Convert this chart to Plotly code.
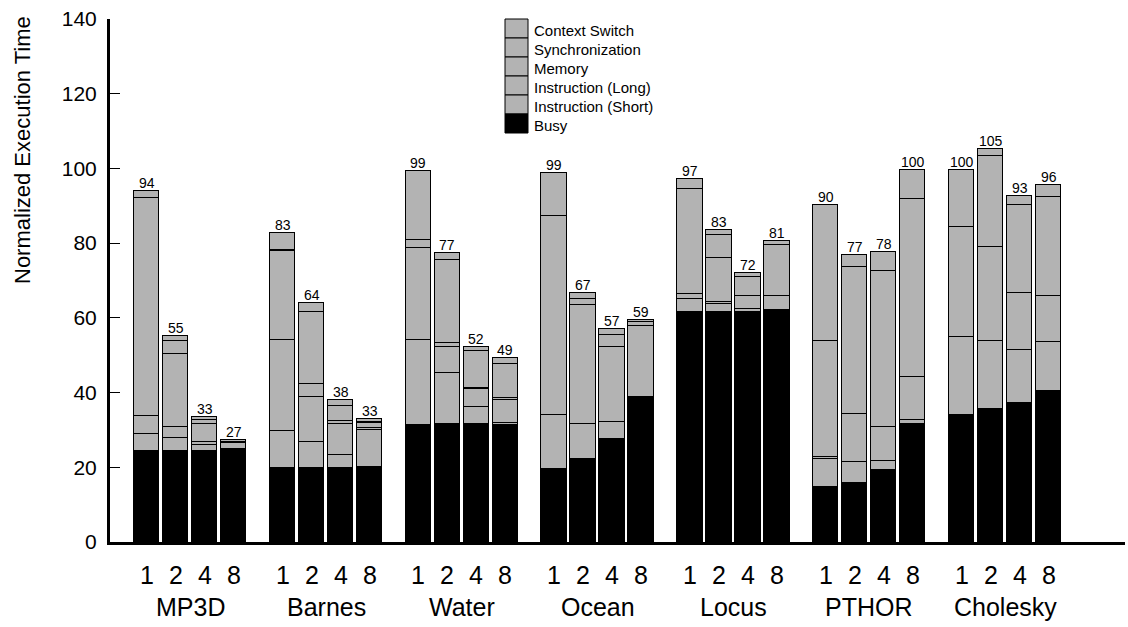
import plotly.graph_objects as go

# ---------------------------------------------------------------
# Data: normalized execution time breakdown, benchmarks x processors
# ---------------------------------------------------------------
benchmarks = ["MP3D", "Barnes", "Water", "Ocean", "Locus", "PTHOR", "Cholesky"]
procs = ["1", "2", "4", "8"]

# each row: one benchmark, values for 1 / 2 / 4 / 8 processors
busy = [24.3, 24.3, 24.3, 24.3,
        19.9, 19.9, 19.9, 20.0,
        31.4, 31.5, 31.5, 31.3,
        19.5, 22.1, 27.6, 38.7,
        61.5, 61.5, 61.5, 62.2,
        14.6, 15.7, 19.3, 31.7,
        33.9, 35.5, 37.1, 40.4]
inst_short = [4.6, 3.6, 1.8, 0.3,
              9.7, 7.0, 3.3, 10.1,
              22.6, 13.8, 4.7, 0.6,
              14.4, 9.6, 4.6, 19.2,
              3.5, 2.1, 0.8, 3.7,
              7.7, 5.8, 2.4, 0.9,
              20.9, 18.3, 14.3, 13.1]
inst_long = [4.9, 2.8, 0.7, 0.2,
             24.6, 11.9, 8.4, 0.5,
             24.6, 7.0, 4.7, 6.0,
             53.4, 31.8, 19.9, 0.0,
             1.3, 0.6, 3.6, 0.0,
             0.4, 12.7, 9.1, 11.5,
             29.6, 25.3, 15.2, 12.4]
memory = [58.4, 19.7, 4.7, 1.7,
          23.6, 3.4, 0.9, 1.2,
          2.2, 1.0, 0.4, 0.6,
          0.0, 1.6, 3.3, 0.9,
          28.3, 11.8, 5.0, 13.5,
          31.1, 39.3, 41.8, 47.8,
          15.2, 24.3, 23.6, 26.4]
synchronization = [0.0, 3.3, 1.1, 0.2,
                   0.3, 19.5, 4.0, 0.2,
                   18.4, 22.1, 9.7, 9.2,
                   0.0, 0.0, 0.0, 0.0,
                   0.0, 6.1, 0.0, 0.0,
                   36.4, 0.0, 0.0, 0.0,
                   0.0, 0.0, 0.0, 0.0]
context_switch = [1.7, 1.4, 0.8, 0.5,
                  4.5, 2.2, 1.4, 0.8,
                  0.2, 1.9, 1.1, 1.5,
                  11.4, 1.6, 1.7, 0.6,
                  2.7, 1.3, 1.2, 1.3,
                  0.0, 3.4, 5.0, 7.7,
                  0.0, 1.9, 2.5, 3.3]

segment_names = ["Busy", "Instruction (Short)", "Instruction (Long)",
                 "Memory", "Synchronization", "Context Switch"]
segment_values = [busy, inst_short, inst_long, memory, synchronization, context_switch]
segment_colors = ["#000000", "#b3b3b3", "#b3b3b3", "#b3b3b3", "#b3b3b3", "#b3b3b3"]

# ---------------------------------------------------------------
# Geometry
# ---------------------------------------------------------------
W, H = 1128, 627
M_L, M_R, M_T, M_B = 110, 3, 19, 85
PLOT_W = W - M_L - M_R
PLOT_H = H - M_T - M_B

BAR_STEP_PX = 29.0        # distance between neighbouring bars
GROUP_STEP_PX = 135.8     # distance between benchmark groups
FIRST_BAR_PX = 146.7      # centre of the first bar
GROUP_STEP = GROUP_STEP_PX / BAR_STEP_PX
BAR_W = 0.88

X_MIN = (M_L - FIRST_BAR_PX) / BAR_STEP_PX
X_MAX = (W - M_R - FIRST_BAR_PX) / BAR_STEP_PX


def px_x(px):
    return (px - M_L) / PLOT_W


def px_y(py):
    return (H - M_B - py) / PLOT_H


x_pos = [g * GROUP_STEP + i for g in range(len(benchmarks)) for i in range(len(procs))]
totals = [sum(s[j] for s in segment_values) for j in range(len(x_pos))]

SANS = "Arial, Liberation Sans, sans-serif"

fig = go.Figure()
for name, vals, color in zip(segment_names, segment_values, segment_colors):
    fig.add_trace(go.Bar(
        x=x_pos, y=vals, name=name, width=BAR_W,
        marker=dict(color=color, line=dict(color="#000000", width=1)),
        showlegend=False, hoverinfo="skip",
    ))

annotations = []

# totals above each bar
for xp, tot in zip(x_pos, totals):
    annotations.append(dict(
        x=xp, y=tot, xref="x", yref="y", text=str(round(tot)),
        showarrow=False, yanchor="bottom", yshift=-2,
        font=dict(family=SANS, size=14, color="#000000"),
    ))

# processor counts under each bar
for j, xp in enumerate(x_pos):
    annotations.append(dict(
        x=xp, y=px_y(575), xref="x", yref="paper", text=procs[j % len(procs)],
        showarrow=False, yanchor="middle",
        font=dict(family=SANS, size=25, color="#000000"),
    ))

# benchmark names under each group
for g, name in enumerate(benchmarks):
    annotations.append(dict(
        x=g * GROUP_STEP + (len(procs) - 1) / 2, y=px_y(607), xref="x", yref="paper",
        text=name, showarrow=False, yanchor="middle",
        font=dict(family=SANS, size=25, color="#000000"),
    ))

# y-axis title
annotations.append(dict(
    x=px_x(22), y=px_y(150), xref="paper", yref="paper",
    text="Normalized Execution Time", textangle=-90, showarrow=False,
    xanchor="center", yanchor="middle",
    font=dict(family=SANS, size=22, color="#000000"),
))

# legend: stacked swatches, top entry first
shapes = []
LEG_X0, LEG_X1 = 505, 528
LEG_TOP, LEG_STEP = 19, 19
for k, idx in enumerate(reversed(range(len(segment_names)))):
    top = LEG_TOP + k * LEG_STEP
    shapes.append(dict(
        type="rect", xref="paper", yref="paper",
        x0=px_x(LEG_X0), x1=px_x(LEG_X1), y0=px_y(top + LEG_STEP), y1=px_y(top),
        fillcolor=segment_colors[idx], line=dict(color="#000000", width=1),
    ))
    annotations.append(dict(
        x=px_x(532), y=px_y(top + LEG_STEP / 2 + 2), xref="paper", yref="paper",
        text=segment_names[idx], showarrow=False, xanchor="left", yanchor="middle",
        font=dict(family=SANS, size=15, color="#000000"),
    ))

yticks = list(range(0, 141, 20))

fig.update_layout(
    width=W, height=H,
    margin=dict(l=M_L, r=M_R, t=M_T, b=M_B, autoexpand=False),
    barmode="stack", bargap=0,
    plot_bgcolor="#ffffff", paper_bgcolor="#ffffff",
    showlegend=False,
    xaxis=dict(range=[X_MIN, X_MAX], showline=True, linecolor="#000000", linewidth=3,
               showticklabels=False, ticks="", showgrid=False, zeroline=False,
               fixedrange=True),
    yaxis=dict(range=[0, 140], tickvals=yticks, ticks="inside", ticklen=10, tickwidth=1,
               tickcolor="#000000", showline=True, linecolor="#000000", linewidth=3,
               showgrid=False, zeroline=False, ticklabelstandoff=6,
               tickfont=dict(family=SANS, size=21, color="#000000"), fixedrange=True),
    yaxis2=dict(range=[0, 140], overlaying="y", anchor="x", side="left",
                tickvals=yticks, ticks="outside", ticklen=4, tickwidth=1,
                tickcolor="#000000", showticklabels=False, showline=False,
                showgrid=False, zeroline=False, fixedrange=True),
    annotations=annotations,
    shapes=shapes,
)

fig.write_html("out.html")
